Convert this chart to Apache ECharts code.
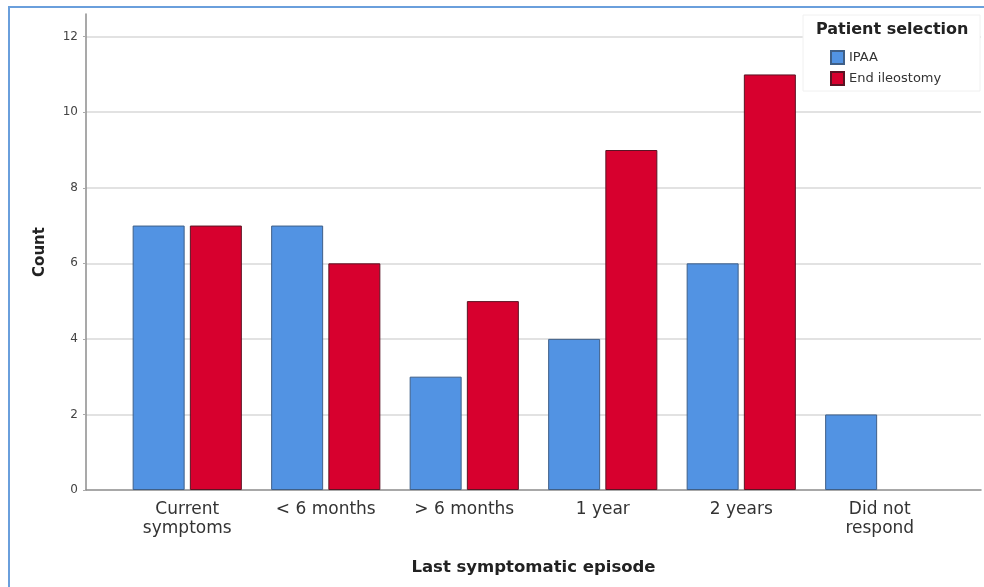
<!DOCTYPE html>
<html>
<head>
<meta charset="utf-8">
<script src="https://cdn.jsdelivr.net/npm/echarts@6/dist/echarts.min.js"></script>
<style>
  html, body { margin: 0; padding: 0; background: #fff; }
  #chart { width: 984px; height: 587px; }
</style>
</head>
<body>
<div id="chart"></div>
<script>
// data
let categories = ['Current\nsymptoms', '< 6 months', '> 6 months', '1 year', '2 years', 'Did not\nrespond'];
let ipaa_counts = [7, 7, 3, 4, 6, 2];
let end_ileostomy_counts = [7, 6, 5, 9, 11, 0];
let y_ticks = [0, 2, 4, 6, 8, 10, 12];

let font = 'DejaVu Sans';
let y_max = 12.6;

let chart_option = {
    animation: false,
    textStyle: { fontFamily: font },
    graphic: [
        {
            // blue frame round the picture
            type: 'rect',
            shape: { x: 9, y: 7, width: 1000, height: 600 },
            style: { fill: 'none', stroke: '#6a9fdc', lineWidth: 2 },
            z: 10
        },
        {
            // white box behind the legend
            type: 'rect',
            shape: { x: 803, y: 15, width: 177, height: 76 },
            style: { fill: '#fff', stroke: '#f0f0f0', lineWidth: 1 },
            z: 3
        },
        {
            type: 'text',
            left: 816,
            top: 22,
            style: {
                text: 'Patient selection',
                font: 'bold 16px ' + font,
                fill: '#222'
            },
            z: 5
        }
    ],
    legend: {
        orient: 'vertical',
        left: 830,
        top: 50,
        icon: 'rect',
        itemWidth: 13,
        itemHeight: 13,
        itemGap: 6,
        padding: 0,
        z: 5,
        textStyle: { fontSize: 13, color: '#333', fontFamily: font },
        data: ['IPAA', 'End ileostomy']
    },
    grid: [
        { left: 86, right: 3, top: 14, bottom: 97 },
        { left: 118, right: 35, top: 14, bottom: 97 }
    ],
    xAxis: [
        {
            gridIndex: 0,
            type: 'value',
            min: 0,
            max: 1,
            name: 'Last symptomatic episode',
            nameLocation: 'middle',
            nameGap: 69,
            nameTextStyle: { fontSize: 16.5, fontWeight: 'bold', color: '#222', fontFamily: font },
            axisLine: { show: true, lineStyle: { color: '#8c8c8c', width: 1.5 } },
            axisTick: { show: false },
            axisLabel: { show: false },
            splitLine: { show: false }
        },
        {
            gridIndex: 1,
            type: 'category',
            data: categories,
            axisLine: { show: false },
            axisTick: { show: false },
            axisLabel: {
                show: true,
                interval: 0,
                margin: 10,
                fontSize: 17,
                lineHeight: 19,
                color: '#333',
                fontFamily: font
            }
        }
    ],
    yAxis: [
        {
            gridIndex: 0,
            type: 'value',
            min: y_ticks[0],
            max: y_max,
            interval: y_ticks[1] - y_ticks[0],
            name: 'Count',
            nameLocation: 'middle',
            nameGap: 38,
            nameTextStyle: { fontSize: 15, fontWeight: 'bold', color: '#222', fontFamily: font },
            axisLine: { show: true, lineStyle: { color: '#8c8c8c', width: 1.5 } },
            axisTick: { show: true, length: 3, lineStyle: { color: '#aaa' } },
            axisLabel: {
                show: true,
                showMaxLabel: false,
                fontSize: 12,
                color: '#444',
                margin: 8,
                fontFamily: font
            },
            splitLine: {
                show: true,
                showMinLine: false,
                showMaxLine: false,
                lineStyle: { color: '#d9d9d9', width: 1.5 }
            }
        },
        {
            gridIndex: 1,
            type: 'value',
            min: y_ticks[0],
            max: y_max,
            show: false
        }
    ],
    series: [
        {
            name: 'IPAA',
            type: 'bar',
            xAxisIndex: 1,
            yAxisIndex: 1,
            barWidth: 52,
            barGap: '10%',
            itemStyle: { color: '#5293e3', borderColor: '#3f5f87', borderWidth: 1 },
            data: ipaa_counts
        },
        {
            name: 'End ileostomy',
            type: 'bar',
            xAxisIndex: 1,
            yAxisIndex: 1,
            barWidth: 52,
            barGap: '10%',
            itemStyle: { color: '#d7002e', borderColor: '#5a1424', borderWidth: 1 },
            data: end_ileostomy_counts.map(v => v === 0 ? '-' : v)
        }
    ]
};

let symptom_chart = echarts.init(document.getElementById('chart'));
symptom_chart.setOption(chart_option);
</script>
</body>
</html>
